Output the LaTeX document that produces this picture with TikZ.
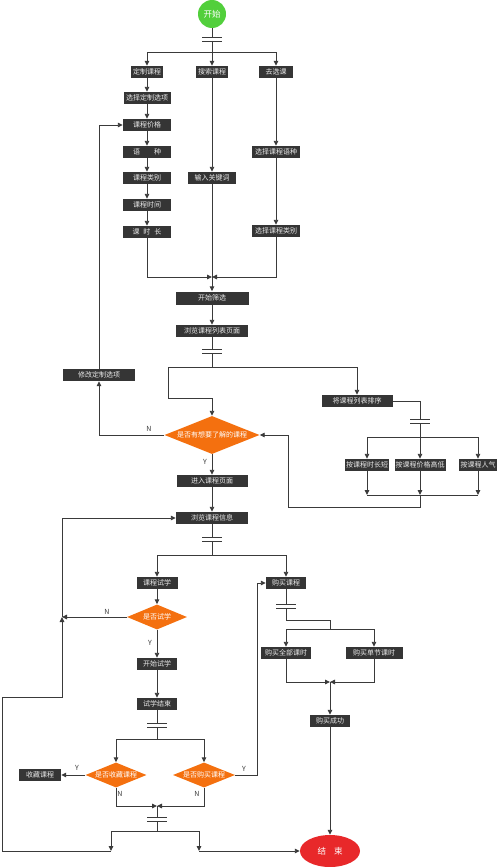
\documentclass[tikz,border=0pt]{standalone}
\usepackage{fontspec}
\newfontfamily\cjk{Noto Sans CJK SC}
\usetikzlibrary{shapes.geometric,arrows.meta}
\definecolor{boxc}{HTML}{353535}
\definecolor{linec}{HTML}{3A3A3A}
\definecolor{orangec}{HTML}{F4700F}
\definecolor{greenc}{HTML}{52CF3C}
\definecolor{redc}{HTML}{E8282A}
\tikzset{
  ln/.style={draw=linec,line width=0.9pt},
  arr/.style={ln,-{Triangle[length=5pt,width=4.5pt]}},
  box/.style={rectangle,fill=boxc,text=white!92!black,font=\cjk\fontsize{7}{8}\selectfont,minimum height=12,inner sep=1,minimum width=#1},
  box/.default=48,
  dia/.style={diamond,fill=orangec,text=white,font=\cjk\fontsize{7}{8}\selectfont,inner sep=0,minimum width=#1},
  lab/.style={font=\cjk\fontsize{7}{8}\selectfont,text=linec,inner sep=0}
}
\newcommand\mysync[3]{%
  \coordinate (#1) at (#2,#3);
  \coordinate (#1t) at (#2,#3-2);
  \coordinate (#1b) at (#2,#3+2);
  \draw[ln] (#2-10,#3-2) -- (#2+10,#3-2);
  \draw[ln] (#2-10,#3+2) -- (#2+10,#3+2);}
\begin{document}
\begin{tikzpicture}[x=1pt,y=-1pt]
\useasboundingbox (0,0) rectangle (500,867);
% nodes
\node[circle,fill=greenc,text=white,font=\cjk\fontsize{8.5}{9}\selectfont,minimum size=28,inner sep=0] (start) at (212,14) {开始};
\node[box=32] (b1) at (147,72) {定制课程};
\node[box=32] (b2) at (212,72) {搜索课程};
\node[box=34] (b3) at (276,72) {去选课};
\node[box=47] (c1) at (147,98) {选择定制选项};
\node[box] (c2) at (147,125) {课程价格};
\node[box] (c3) at (147,152) {语\hspace{14pt}种};
\node[box] (c4) at (147,178) {课程类别};
\node[box] (c5) at (147,205) {课程时间};
\node[box] (c6) at (147,232) {课\hspace{4pt}时\hspace{4pt}长};
\node[box] (k) at (212,178) {输入关键词};
\node[box] (r1) at (276,152) {选择课程语种};
\node[box] (r2) at (276,231) {选择课程类别};
\node[box=73,minimum height=13] (s) at (212,298) {开始筛选};
\node[box=72] (l) at (212,331) {浏览课程列表页面};
\node[box=72] (m) at (99,375) {修改定制选项};
\node[dia=95,minimum height=38,aspect=2.5] (d1) at (212,435) {是否有想要了解的课程};
\node[box=71] (sort) at (357,401) {将课程列表排序};
\node[box=41] (o1) at (367,465) {按课程时长短};
\node[box=46] (o2) at (420,465) {按课程价格高低};
\node[box=38] (o3) at (478,465) {按课程人气};
\node[box=71] (e) at (212,481) {进入课程页面};
\node[box=72] (info) at (212,518) {浏览课程信息};
\node[box=41] (t) at (157,583) {课程试学};
\node[box=40] (buy) at (286,583) {购买课程};
\node[dia=60,minimum height=25,aspect=2.4] (d2) at (157,617) {是否试学};
\node[box=40] (ts) at (157,664) {开始试学};
\node[box=40] (te) at (157,704) {试学结束};
\node[dia=61,minimum height=25,aspect=2.4] (d3) at (116,775) {是否收藏课程};
\node[dia=62,minimum height=25,aspect=2.4] (d4) at (204,775) {是否购买课程};
\node[box=42] (fav) at (40,775) {收藏课程};
\node[box=50] (ball) at (286,653) {购买全部课时};
\node[box=57] (bone) at (374,653) {购买单节课时};
\node[box=40] (ok) at (330,721) {购买成功};
\node[ellipse,fill=redc,text=white,font=\cjk\fontsize{8.5}{9}\selectfont,minimum width=60,minimum height=32,inner sep=0] (end) at (330,851) {结\hspace{8pt}束};
% sync bars
\mysync{sa}{212}{39}
\mysync{sb}{212}{351}
\mysync{sc}{420}{421}
\mysync{sd}{212}{539}
\mysync{se}{286}{606}
\mysync{sf}{157}{725}
\mysync{sg}{157}{819}
% coordinates
\coordinate (j1) at (212,52);
\coordinate (j2) at (212,277);
\coordinate (j3) at (212,367);
\coordinate (ja) at (168,367);
\coordinate (jb) at (168,398);
\coordinate (j4) at (420,437);
\coordinate (j5) at (420,495);
\coordinate (j6) at (420,507);
\coordinate (j7) at (288,507);
\coordinate (j8) at (212,555);
\coordinate (jn) at (62,617);
\coordinate (j9) at (157,739);
\coordinate (jy) at (257,775);
\coordinate (j10) at (157,806);
\coordinate (j11) at (157,831);
\coordinate (k1) at (111,851);
\coordinate (k2) at (199,851);
\coordinate (lp1) at (2,851);
\coordinate (lp2) at (2,697);
\coordinate (lp3) at (62,697);
\coordinate (q1) at (286,620);
\coordinate (j12) at (330,629);
\coordinate (j13) at (330,682);
% connectors
\draw[ln] (start) -- (sat);
\draw[ln] (sab) -- (j1);
\draw[arr] (j1) -| (b1.north);
\draw[arr] (j1) -| (b3.north);
\draw[arr] (j1) -- (b2.north);
\draw[arr] (b1) -- (c1);
\draw[arr] (c1) -- (c2);
\draw[arr] (c2) -- (c3);
\draw[arr] (c3) -- (c4);
\draw[arr] (c4) -- (c5);
\draw[arr] (c5) -- (c6);
\draw[arr] (b2) -- (k);
\draw[arr] (b3) -- (r1);
\draw[arr] (r1) -- (r2);
\draw[arr] (c6.south) |- (j2);
\draw[arr] (r2.south) |- (j2);
\draw[arr] (k) -- (s);
\draw[arr] (s) -- (l);
\draw[ln] (l) -- (sbt);
\draw[ln] (sbb) -- (j3);
\draw[arr] (j3) -| (sort.north);
\draw[arr] (j3) -- (ja) -- (jb) -| (d1.north);
\draw[ln] (sort.east) -| (sct);
\draw[ln] (scb) -- (j4);
\draw[arr] (j4) -| (o1.north);
\draw[arr] (j4) -| (o3.north);
\draw[arr] (j4) -- (o2.north);
\draw[arr] (o1.south) -- (o1.south |- j5);
\draw[arr] (o2.south) -- (j5);
\draw[arr] (o3.south) -- (o3.south |- j5);
\draw[ln] (o1.south |- j5) -- (o3.south |- j5);
\draw[arr] (j5) -- (j6) -- (j7) |- (d1.east);
\draw[arr] (d1.west) -| (m.south);
\draw[arr] (m.north) |- (c2.west);
\node[lab] (n1) at (149,429) {N};
\draw[arr] (d1.south) -- (e.north);
\node[lab] (y1) at (205,462) {Y};
\draw[arr] (e) -- (info);
\draw[ln] (info) -- (sdt);
\draw[ln] (sdb) -- (j8);
\draw[arr] (j8) -| (t.north);
\draw[arr] (j8) -| (buy.north);
\draw[arr] (t) -- (d2);
\draw[arr] (d2.west) -- (jn);
\node[lab] (n2) at (107,612) {N};
\draw[arr] (d2.south) -- (ts.north);
\node[lab] (y2) at (150,643) {Y};
\draw[arr] (ts) -- (te);
\draw[ln] (te) -- (sft);
\draw[ln] (sfb) -- (j9);
\draw[arr] (j9) -| (d3.north);
\draw[arr] (j9) -| (d4.north);
\draw[arr] (d3.west) -- (fav.east);
\node[lab] (y3) at (77,768) {Y};
\draw[arr] (d4.east) -- (jy) |- (buy.west);
\node[lab] (y4) at (244,769) {Y};
\draw[arr] (d3.south) |- (j10);
\draw[arr] (d4.south) |- (j10);
\node[lab] (n3) at (120,794) {N};
\node[lab] (n4) at (197,794) {N};
\draw[ln] (j10) -- (sgt);
\draw[ln] (sgb) -- (j11);
\draw[arr] (j11) -| (k1);
\draw[arr] (j11) -| (k2);
\draw[arr] (k2) -- (end.west);
\draw[arr] (k1) -- (lp1) -- (lp2) -- (lp3) -- (jn);
\draw[arr] (jn) |- (info.west);
\draw[ln] (buy) -- (set);
\draw[ln] (seb) -- (q1) -| (j12);
\draw[arr] (j12) -| (ball.north);
\draw[arr] (j12) -| (bone.north);
\draw[arr] (ball.south) |- (j13);
\draw[arr] (bone.south) |- (j13);
\draw[arr] (j13) -- (ok.north);
\draw[arr] (ok) -- (end);
\end{tikzpicture}
\end{document}
